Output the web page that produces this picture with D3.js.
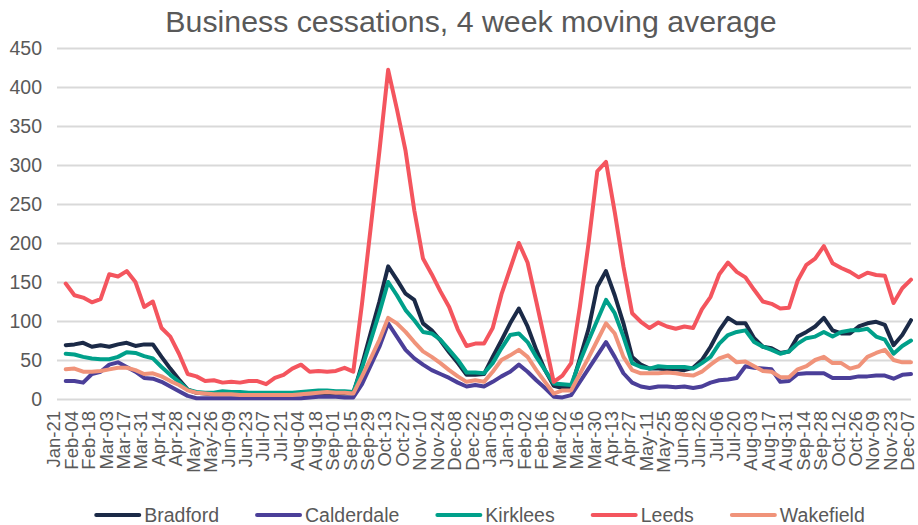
<!DOCTYPE html>
<html>
<head>
<meta charset="utf-8">
<script src="https://cdn.jsdelivr.net/npm/d3@7"></script>
<style>
  body { margin: 0; background: #fff; }
  svg text { font-family: "Liberation Sans", Arial, sans-serif; fill: #595959; }
</style>
</head>
<body>
<svg id="chart" width="918" height="525"></svg>
<script>
// x tick labels, one every second week (first week is Jan-21)
var tickLabels = ['Jan-21','Feb-04','Feb-18','Mar-03','Mar-17','Mar-31','Apr-14','Apr-28','May-12','May-26',
  'Jun-09','Jun-23','Jul-07','Jul-21','Aug-04','Aug-18','Sep-01','Sep-15','Sep-29','Oct-13',
  'Oct-27','Nov-10','Nov-24','Dec-08','Dec-22','Jan-05','Jan-19','Feb-02','Feb-16','Mar-02',
  'Mar-16','Mar-30','Apr-13','Apr-27','May-11','May-25','Jun-08','Jun-22','Jul-06','Jul-20',
  'Aug-03','Aug-17','Aug-31','Sep-14','Sep-28','Oct-12','Oct-26','Nov-09','Nov-23','Dec-07'];

// weekly values, 99 weeks; first week has no moving average yet
var bradford = [null,69,70,72,67,69,67,70,72,68,70,70,54,39,25,12,8,7,6,6,6,6,6,6,6,6,6,6,7,7,7,7,7,7,7,
  44,85,125,170,153,135,127,97,88,75,60,46,31,31,32,54,75,97,116,93,63,37,17,14,14,
  52,90,144,164,133,97,54,44,39,39,38,38,37,40,50,67,88,104,97,97,78,67,65,59,61,
  80,86,93,104,88,84,84,93,97,99,95,69,82,101];
var calderdale = [null,23,23,21,32,35,44,47,41,35,27,26,22,16,10,4,1,1,1,1,1,1,1,1,1,1,1,1,1,2,3,3,3,2,2,
  19,43,67,97,80,63,52,44,37,32,27,21,16,18,16,22,29,35,44,35,24,14,3,2,5,
  22,39,56,73,54,33,21,16,14,16,16,15,16,14,16,21,24,25,27,42,40,39,38,22,23,
  32,33,33,33,27,27,27,29,29,30,30,26,31,32];
var kirklees = [null,58,57,54,52,51,51,54,60,59,55,52,41,31,22,12,9,8,8,10,9,9,8,8,8,8,8,8,9,10,11,11,10,10,9,
  40,75,111,150,133,114,101,86,84,76,63,50,34,34,33,46,65,82,84,73,54,37,20,19,18,
  48,75,101,127,110,80,46,41,39,42,41,41,41,39,46,54,71,82,86,88,73,67,63,58,61,
  71,78,80,86,80,86,88,88,90,80,76,58,68,75];
var leeds = [null,148,133,130,124,128,160,157,164,150,118,125,91,80,58,32,29,23,24,21,22,21,23,23,19,27,31,39,44,35,36,35,36,40,35,
  122,220,318,422,372,318,242,180,160,138,118,89,68,71,71,91,134,167,200,175,125,74,22,30,46,
  118,200,292,304,240,170,110,99,91,98,93,90,93,91,115,131,160,175,163,156,140,125,122,116,117,
  152,172,180,196,174,168,163,156,162,159,158,123,142,153];
var wakefield = [null,38,39,35,35,36,38,40,40,37,32,33,29,23,18,11,8,7,6,6,6,5,5,5,5,5,5,5,6,7,8,9,8,8,7,
  29,52,76,104,97,86,73,61,54,46,37,29,22,24,22,35,50,56,63,54,37,22,7,11,11,
  32,53,75,97,84,54,37,33,33,33,34,33,31,30,35,44,52,56,47,48,42,36,35,28,28,
  38,42,50,54,46,46,39,42,54,59,63,50,47,47];

var seriesNames = ['Bradford','Calderdale','Kirklees','Leeds','Wakefield'];
var seriesColors = ['#1b2a47','#4b3f99','#00a08a','#f4555e','#f0937a'];
var seriesValues = [bradford, calderdale, kirklees, leeds, wakefield];

// plot area
var margin = {top: 48, right: 7, bottom: 126, left: 57}
  , width = 918 - margin.left - margin.right
  , height = 525 - margin.top - margin.bottom;

var svg = d3.select('#chart');

var x = d3.scaleLinear().domain([0, 98]).range([0, width]);
var y = d3.scaleLinear().domain([0, 450]).range([height, 0]);

var g = svg.append('g')
    .attr('transform', 'translate(' + margin.left + ',' + margin.top + ')');

// title
svg.append('text')
    .attr('x', 471)
    .attr('y', 32)
    .attr('text-anchor', 'middle')
    .style('font-size', '30.3px')
    .text('Business cessations, 4 week moving average');

// y axis with gridlines
var yAxis = g.append('g')
    .call(d3.axisLeft(y).ticks(9).tickSize(-width).tickPadding(15));
yAxis.select('.domain').remove();
yAxis.selectAll('line').attr('stroke', '#d9d9d9').attr('stroke-width', 2);
yAxis.selectAll('text').style('font-size', '19.5px').style('fill', '#595959');

// x axis, rotated labels
var xAxis = g.append('g')
    .attr('transform', 'translate(0,' + height + ')')
    .call(d3.axisBottom(x)
      .tickValues(d3.range(0, 99, 2))
      .tickFormat(function(d) { return tickLabels[d / 2]; })
      .tickSize(0));
xAxis.select('.domain').remove();
xAxis.selectAll('text')
    .attr('transform', 'rotate(-90)')
    .attr('x', -12)
    .attr('y', 0)
    .attr('dy', '0.15em')
    .attr('text-anchor', 'end')
    .style('font-size', '18.5px')
    .style('fill', '#595959');

// lines
var line = d3.line()
    .defined(function(d) { return d != null; })
    .x(function(d, i) { return x(i); })
    .y(function(d) { return y(d); });

seriesValues.forEach(function(vals, k) {
  g.append('path')
      .datum(vals)
      .attr('fill', 'none')
      .attr('stroke', seriesColors[k])
      .attr('stroke-width', 4)
      .attr('stroke-linejoin', 'round')
      .attr('stroke-linecap', 'round')
      .attr('d', line);
});

// legend
var legend = svg.append('g');
var lx = 0;
seriesNames.forEach(function(name, k) {
  var item = legend.append('g').attr('transform', 'translate(' + lx + ',0)');
  item.append('line')
      .attr('x1', 0).attr('x2', 43)
      .attr('y1', 0).attr('y2', 0)
      .attr('stroke', seriesColors[k])
      .attr('stroke-width', 4)
      .attr('stroke-linecap', 'round');
  var t = item.append('text')
      .attr('x', 48)
      .attr('dy', '0.35em')
      .style('font-size', '19.5px')
      .text(name);
  lx += 48 + t.node().getComputedTextLength() + 38;
});
var legendWidth = lx - 38;
legend.attr('transform', 'translate(' + (480.5 - legendWidth / 2) + ',515)');
</script>
</body>
</html>
